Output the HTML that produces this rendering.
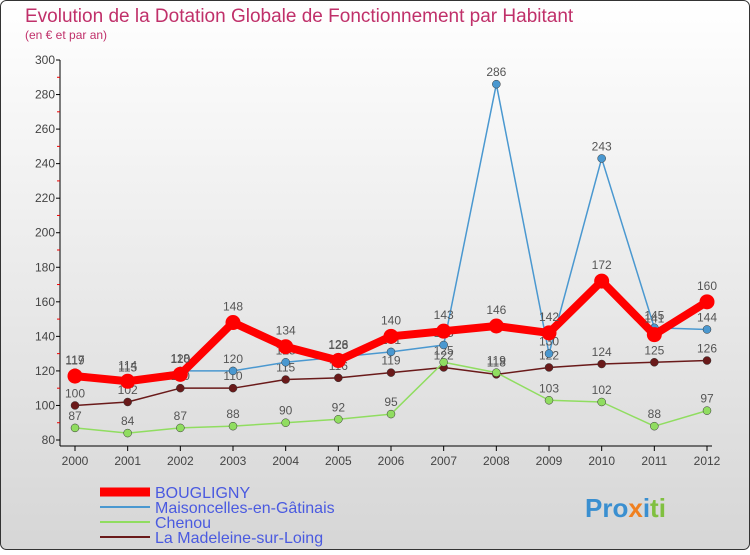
<!DOCTYPE html>
<html><head><meta charset="utf-8"><style>
body{margin:0;width:750px;height:550px;overflow:hidden;font-family:"Liberation Sans",sans-serif}
svg text{font-family:"Liberation Sans",sans-serif}
</style></head><body>
<svg id="c" width="750" height="550">
<defs><linearGradient id="bg" x1="0" y1="0" x2="0" y2="1"><stop offset="0" stop-color="#ffffff"/><stop offset="1" stop-color="#d6d6d6"/></linearGradient></defs>
<rect x="0.5" y="0.5" width="749" height="549" rx="6" fill="url(#bg)" stroke="#333"/>
<text x="25" y="22" font-size="19" fill="#c0306a">Evolution de la Dotation Globale de Fonctionnement par Habitant</text>
<text x="25" y="39" font-size="12" fill="#c0306a">(en € et par an)</text>
<g id="axes"></g><g id="series"></g><g id="legend"></g>
<text x="585" y="517" font-size="26" font-weight="bold" fill="#3a8fd0">Pro<tspan fill="#f08020">x</tspan>i<tspan fill="#80c040">ti</tspan></text>
</svg>
<script>
const years=[2000,2001,2002,2003,2004,2005,2006,2007,2008,2009,2010,2011,2012];
const yTicks=[80,100,120,140,160,180,200,220,240,260,280,300];
const seriesNames=["BOUGLIGNY","Maisoncelles-en-Gâtinais","Chenou","La Madeleine-sur-Loing"];
const bougligny=[117,114,118,148,134,126,140,143,146,142,172,141,160];
const maisoncelles=[119,115,120,120,125,128,131,135,286,130,243,145,144];
const chenou=[87,84,87,88,90,92,95,125,119,103,102,88,97];
const madeleine=[100,102,110,110,115,116,119,122,118,122,124,125,126];
const NS="http://www.w3.org/2000/svg";
const x=i=>75+i*(707-75)/(years.length-1);
const y=v=>440-(v-80)*(380/220);
function el(t,a,p){const e=document.createElementNS(NS,t);for(const k in a)e.setAttribute(k,a[k]);p.appendChild(e);return e;}
const ax=document.getElementById('axes');
let l=el('line',{x1:60,y1:60,x2:60,y2:446,stroke:'#000'},ax);


l=el('line',{x1:60,y1:446,x2:712,y2:446,stroke:'#000'},ax);


yTicks.forEach(v=>{
 el('line',{x1:56,y1:y(v),x2:60,y2:y(v),stroke:'#000'},ax);
 if(v<300) el('line',{x1:57,y1:y(v+10),x2:60,y2:y(v+10),stroke:'#e00'},ax);
 const t=el('text',{x:55,y:y(v)+4,'font-size':12,'text-anchor':'end',fill:'#444'},ax);t.textContent=v;
 
 
});
years.forEach((yr,i)=>{
 el('line',{x1:x(i),y1:446,x2:x(i),y2:451,stroke:'#000'},ax);
 const t=el('text',{x:x(i),y:465,'font-size':12,'text-anchor':'middle',fill:'#444'},ax);t.textContent=yr;
 
 
});
const sg=document.getElementById('series');
const defs=[[madeleine,'#6a1a1a',1.5,4,'madeleine'],[chenou,'#90dd60',1.5,4,'chenou'],[maisoncelles,'#4a98d0',1.5,4,'maisoncelles'],[bougligny,'#ff0000',8,7.5,'bougligny']];
defs.forEach(([d,c,w,r,n])=>{
 const p=el('polyline',{points:d.map((v,i)=>x(i)+','+y(v)).join(' '),fill:'none',stroke:c,'stroke-width':w,'stroke-linejoin':'round'},sg);
 
 
 d.forEach((v,i)=>{
  const ci=el('circle',{cx:x(i),cy:y(v),r:r,fill:c,stroke:w>2?'none':'#333','stroke-width':0.5},sg);
  
  
  const t=el('text',{x:x(i),y:y(v)-8-(w>2?4:0),'font-size':12,'text-anchor':'middle',fill:'#555'},sg);t.textContent=v;
  
  
 });
});
const lg=document.getElementById('legend');
const lc=[['#ff0000',9],['#4a98d0',2],['#90dd60',2],['#6a1a1a',2]];
seriesNames.forEach((s,i)=>{
 const yy=492+i*15;
 el('line',{x1:100,y1:yy,x2:150,y2:yy,stroke:lc[i][0],'stroke-width':lc[i][1]},lg);
 const t=el('text',{x:155,y:yy+6,'font-size':16,fill:'#4a5ae0'},lg);t.textContent=s;
 
 
});
</script>
</body></html>
